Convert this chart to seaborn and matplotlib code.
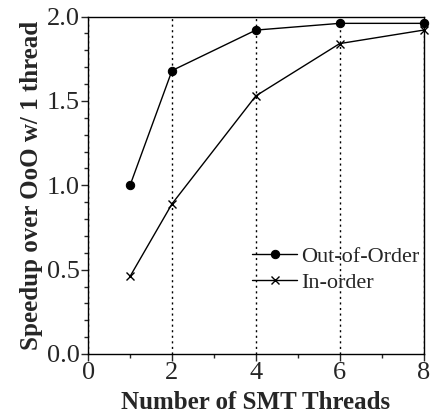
import numpy as np
import pandas as pd
import matplotlib
matplotlib.use('Agg')
import matplotlib.pyplot as plt
import seaborn as sns
from matplotlib.ticker import MultipleLocator

sns.set_style('ticks')
plt.rcParams['font.family'] = ['Liberation Serif', 'DejaVu Serif']

# data
threads = [1, 2, 4, 6, 8]
ooo_speedup = [1.00, 1.68, 1.92, 1.96, 1.96]
inorder_speedup = [0.46, 0.89, 1.53, 1.84, 1.92]

fig, ax = plt.subplots(figsize=(4.3, 4.15), dpi=100)

ax.xaxis.grid(True, linestyle=(0, (1.5, 2.5)), color='black', linewidth=1.0)
ax.set_axisbelow(True)

# one call per series, filled and line-art markers can't share a style map
sns.lineplot(x=threads, y=ooo_speedup, color='black', marker='o',
             linewidth=1.0, markersize=6, markeredgecolor='black',
             label='Out-of-Order', ax=ax, clip_on=False)
sns.lineplot(x=threads, y=inorder_speedup, color='black', marker='x',
             linewidth=1.0, markersize=6, markeredgewidth=1.0,
             markeredgecolor='black', label='In-order', ax=ax, clip_on=False)

ax.set_xlim(0, 8)
ax.set_ylim(0, 2.0)
ax.xaxis.set_major_locator(MultipleLocator(2))
ax.xaxis.set_minor_locator(MultipleLocator(1))
ax.yaxis.set_major_locator(MultipleLocator(0.5))
ax.yaxis.set_minor_locator(MultipleLocator(0.1))
ax.yaxis.set_major_formatter('{x:.1f}')
ax.tick_params(which='major', direction='out', length=5, width=1, labelsize=19, pad=1)
ax.tick_params(which='minor', direction='out', length=3, width=1)

for s in ax.spines.values():
    s.set_linewidth(1.0)
    s.set_color('black')

ax.set_xlabel('Number of SMT Threads', fontsize=18, fontweight='bold', labelpad=5)
ax.set_ylabel('Speedup over OoO w/ 1 thread', fontsize=18, fontweight='bold', labelpad=3)

leg = ax.legend(loc='center left', bbox_to_anchor=(0.49, 0.25), frameon=False,
                fontsize=16, handlelength=2.0, handletextpad=0.2,
                labelspacing=0.25, borderaxespad=0, borderpad=0)

fig.subplots_adjust(left=0.205, right=0.985, top=0.96, bottom=0.147)
fig.savefig('out.png', dpi=100)
